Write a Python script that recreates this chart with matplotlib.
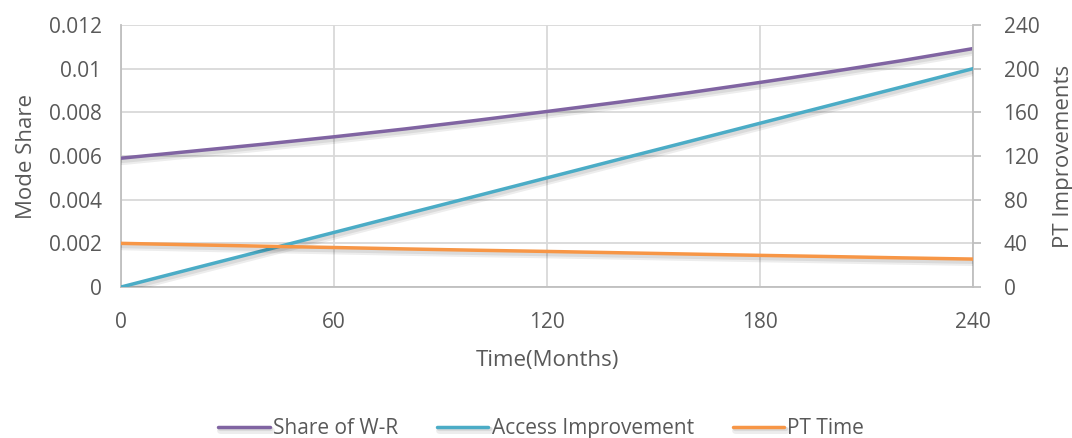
import matplotlib.pyplot as plt
import matplotlib.patheffects as pe

plt.rcParams['font.family'] = ['Open Sans', 'DejaVu Sans']

# months since start
months = [0, 20, 40, 60, 80, 100, 120, 140, 160, 180, 200, 220, 240]
# left axis: mode share of walk-rail
share_wr = [0.00590, 0.00622, 0.00654, 0.00688, 0.00724, 0.00763, 0.00804,
            0.00846, 0.00890, 0.00937, 0.00986, 0.01037, 0.01092]
# right axis: PT improvements
access_impr = [0, 16.7, 33.3, 50, 66.7, 83.3, 100, 116.7, 133.3, 150, 166.7, 183.3, 200]
pt_time = [40, 38.7, 37.4, 36.2, 34.9, 33.7, 32.6, 31.4, 30.2, 29.0, 27.9, 26.7, 25.6]

x_ticks = [0, 60, 120, 180, 240]
left_ticks = [0, 0.002, 0.004, 0.006, 0.008, 0.01, 0.012]
left_labels = ['0', '0.002', '0.004', '0.006', '0.008', '0.01', '0.012']
right_ticks = [0, 40, 80, 120, 160, 200, 240]

txt = '#595959'
grid = '#D9D9D9'
c_share, c_access, c_pt = '#8064A2', '#4BACC6', '#F79646'

fig = plt.figure(figsize=(10.72, 4.38), dpi=100)
ax = fig.add_axes([0.1129, 0.3447, 0.7947, 0.5982])
ax2 = ax.twinx()

shadow = [pe.SimpleLineShadow(offset=(1, -2.5), alpha=0.07, shadow_color='k', linewidth=5),
          pe.SimpleLineShadow(offset=(1, -2), alpha=0.08, shadow_color='k', linewidth=3),
          pe.Normal()]

l1, = ax.plot(months, share_wr, color=c_share, lw=2.5, path_effects=shadow,
              solid_capstyle='round', label='Share of W-R', zorder=3)
l2, = ax2.plot(months, access_impr, color=c_access, lw=2.5, path_effects=shadow,
               solid_capstyle='round', label='Access Improvement', zorder=3)
l3, = ax2.plot(months, pt_time, color=c_pt, lw=2.5, path_effects=shadow,
               solid_capstyle='round', label='PT Time', zorder=3)

ax.set_xlim(0, 240)
ax.set_ylim(0, 0.012)
ax2.set_ylim(0, 240)
ax.set_xticks(x_ticks)
ax.set_yticks(left_ticks)
ax.set_yticklabels(left_labels)
ax2.set_yticks(right_ticks)

ax.grid(True, color=grid, lw=1.3)
ax.set_axisbelow(True)

for a in (ax, ax2):
    for s in a.spines.values():
        s.set_visible(False)
for side in ('left', 'bottom'):
    ax.spines[side].set_visible(True)
    ax.spines[side].set_color('#BFBFBF')
    ax.spines[side].set_linewidth(1.3)
ax2.spines['right'].set_visible(True)
ax2.spines['right'].set_color('#BFBFBF')
ax2.spines['right'].set_linewidth(1.3)

ax.tick_params(axis='y', length=0, labelsize=15, labelcolor=txt, pad=14)
ax.tick_params(axis='x', length=0, labelsize=15, labelcolor=txt, pad=18)
ax2.tick_params(axis='y', length=6, width=1.3, color='#BFBFBF', labelsize=15,
                labelcolor=txt, pad=16)

ax.set_xlabel('Time(Months)', fontsize=16, color=txt, labelpad=12)
ax.set_ylabel('Mode Share', fontsize=16, color=txt, labelpad=8)
ax2.set_ylabel('PT Improvements', fontsize=16, color=txt, labelpad=10)

fig.legend(handles=[l1, l2, l3], loc='center', bbox_to_anchor=(0.505, 0.022),
           ncol=3, frameon=False, fontsize=15, labelcolor=txt,
           handlelength=2.45, handletextpad=0.15, columnspacing=1.9)

fig.savefig('out.png', dpi=100)
